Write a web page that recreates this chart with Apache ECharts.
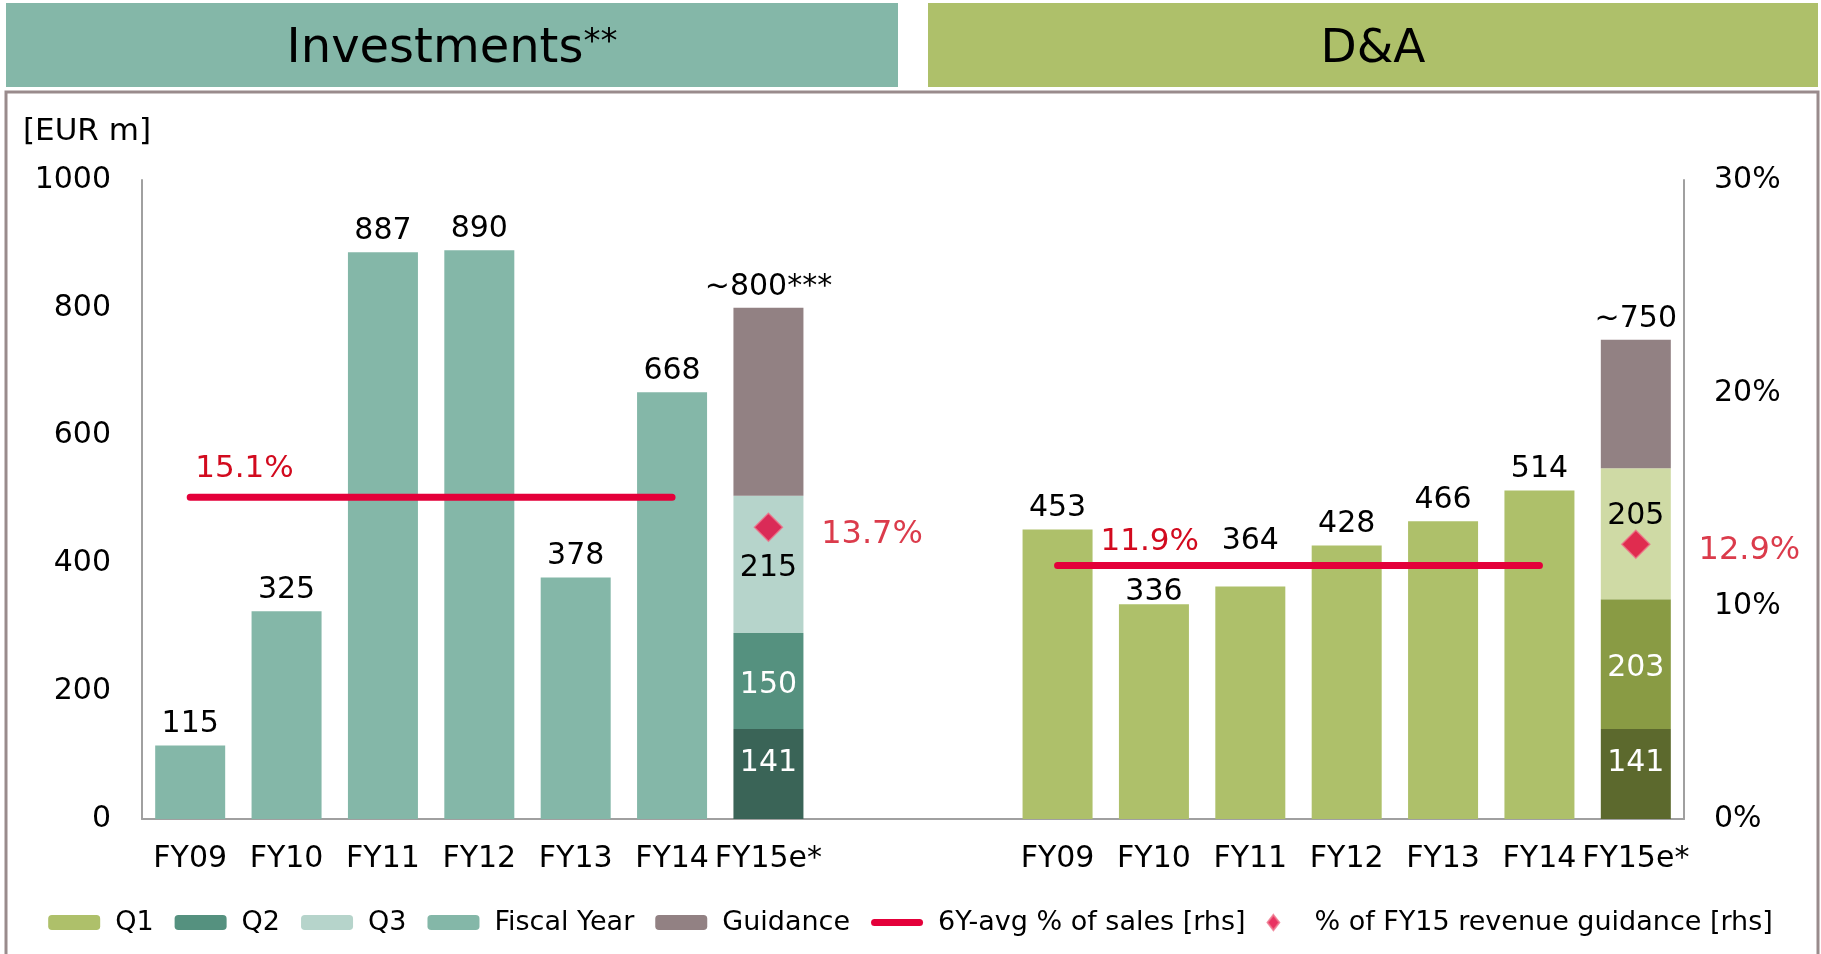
<!DOCTYPE html>
<html>
<head>
<meta charset="utf-8">
<script src="https://cdn.jsdelivr.net/npm/echarts@6/dist/echarts.min.js"></script>
<style>
  html, body { margin: 0; padding: 0; background: #fff; }
  #main { width: 1821px; height: 954px; }
</style>
</head>
<body>
<div id="main"></div>
<script>
// categories: 7 investment years, 2 empty gap slots, 7 D&A years
var categories = ['FY09', 'FY10', 'FY11', 'FY12', 'FY13', 'FY14', 'FY15e*', '', '',
  'FY09', 'FY10', 'FY11', 'FY12', 'FY13', 'FY14', 'FY15e*'];
var invYears = [115, 325, 887, 890, 378, 668];
var daYears = [453, 336, 364, 428, 466, 514];
// FY15e* quarters: [investments, D&A]
var fy15Q1 = [141, 141];
var fy15Q2 = [150, 203];
var fy15Q3 = [215, 205];
var guidanceTotal = [800, 750];
var guidanceLabels = ['~800***', '~750'];
var avgPct = [15.1, 11.9];
var guidancePct = [13.7, 12.9];

var INV = 6, DA = 15;
var font = 'DejaVu Sans';
var teal = '#84B7A8', olive = '#AEC06A', red = '#E4003A', redText = '#D20A1E';

function emptyRow() {
  var a = [];
  for (var i = 0; i < categories.length; i++) a.push('-');
  return a;
}

var fyData = emptyRow();
invYears.forEach(function (v, i) { fyData[i] = v; });
daYears.forEach(function (v, i) { fyData[9 + i] = { value: v, itemStyle: { color: olive } }; });
// nudge labels that sit near the red average line
fyData[10].label = { offset: [0, 9] };
fyData[11].label = { offset: [0, -24] };

var q1Data = emptyRow(), q2Data = emptyRow(), q3Data = emptyRow(), guideData = emptyRow();
q1Data[INV] = { value: fy15Q1[0], itemStyle: { color: '#3A6457' }, label: { offset: [0, -11] } };
q1Data[DA] = { value: fy15Q1[1], itemStyle: { color: '#5C692D' }, label: { offset: [0, -11] } };
q2Data[INV] = { value: fy15Q2[0], itemStyle: { color: '#55917F' }, label: { offset: [0, 4] } };
q2Data[DA] = { value: fy15Q2[1], itemStyle: { color: '#899B44' }, label: { offset: [0, 4] } };
q3Data[INV] = { value: fy15Q3[0], itemStyle: { color: '#B6D4CB' }, label: { offset: [0, 4] } };
q3Data[DA] = { value: fy15Q3[1], itemStyle: { color: '#CFDAA5' }, label: { offset: [0, -17] } };
[INV, DA].forEach(function (idx, k) {
  guideData[idx] = {
    value: guidanceTotal[k] - fy15Q1[k] - fy15Q2[k] - fy15Q3[k],
    label: { formatter: guidanceLabels[k] }
  };
});

var avgData = emptyRow();
for (var i = 0; i < 6; i++) {
  avgData[i] = avgPct[0];
  avgData[9 + i] = avgPct[1];
}
avgData[0] = { value: avgPct[0], label: { show: true, offset: [5, -7] } };
avgData[9] = { value: avgPct[1], label: { show: true, offset: [43, -3] } };

var pctData = emptyRow();
pctData[INV] = { value: guidancePct[0], label: { distance: 38, offset: [0, 7] } };
pctData[DA] = { value: guidancePct[1], label: { distance: 48, offset: [0, 6] } };

var chart = echarts.init(document.getElementById('main'));

var valueLabel = { show: true, position: 'top', distance: 6, color: '#000', fontSize: 30, fontFamily: font };
var insideLabel = { show: true, position: 'inside', color: '#fff', fontSize: 30, fontFamily: font };
var lineIcon = 'path://M3.5,0 H48.5 A3.5,3.5 0 0 1 48.5,7 H3.5 A3.5,3.5 0 0 1 3.5,0 Z';
var diamondIcon = 'path://M7,0 L14,9 L7,18 L0,9 Z';

var option = {
  animation: false,
  textStyle: { fontFamily: font },
  graphic: [
    { type: 'rect', shape: { x: 6, y: 92, width: 1812, height: 880 }, style: { fill: 'none', stroke: '#998B8C', lineWidth: 3 }, z: -10 },
    { type: 'rect', shape: { x: 6, y: 3, width: 892, height: 84 }, style: { fill: teal } },
    { type: 'rect', shape: { x: 928, y: 3, width: 890, height: 84 }, style: { fill: olive } },
    {
      type: 'text', x: 452, y: 50,
      style: {
        text: '{a|Investments}{b|**}', align: 'center', verticalAlign: 'middle',
        rich: {
          a: { fontSize: 48, fontFamily: font, fill: '#000' },
          b: { fontSize: 34, fontFamily: font, fill: '#000', verticalAlign: 'top', padding: [0, 0, 14, 0] }
        }
      }
    },
    { type: 'text', x: 1373, y: 50, style: { text: 'D&A', fontSize: 47, fontFamily: font, fill: '#000', align: 'center', verticalAlign: 'middle' } },
    { type: 'text', x: 23, y: 132, style: { text: '[EUR m]', fontSize: 31, fontFamily: font, fill: '#000', verticalAlign: 'middle' } }
  ],
  legend: {
    left: 'center',
    top: 904,
    itemWidth: 52,
    itemHeight: 15,
    itemGap: 21,
    symbolKeepAspect: true,
    textStyle: { fontSize: 27, fontFamily: font, color: '#000', padding: [0, 0, 0, 10] },
    data: ['Q1', 'Q2', 'Q3', 'Fiscal Year', 'Guidance',
      { name: '6Y-avg % of sales [rhs]', icon: lineIcon },
      { name: '% of FY15 revenue guidance [rhs]', icon: diamondIcon }]
  },
  grid: { left: 142, right: 137, top: 180, bottom: 135 },
  xAxis: {
    type: 'category',
    data: categories,
    axisTick: { show: false },
    axisLine: { lineStyle: { color: '#A0A0A0', width: 2 } },
    axisLabel: { interval: 0, color: '#000', fontSize: 30, fontFamily: font, margin: 25 }
  },
  yAxis: [{
    type: 'value', min: 0, max: 1000, interval: 200,
    axisLine: { show: true, lineStyle: { color: '#A0A0A0', width: 2 } },
    axisTick: { show: false },
    splitLine: { show: false },
    axisLabel: { color: '#000', fontSize: 30, fontFamily: font, margin: 31, formatter: function (v) { return String(v); } }
  }, {
    type: 'value', min: 0, max: 30, interval: 10,
    axisLine: { show: true, lineStyle: { color: '#A0A0A0', width: 2 } },
    axisTick: { show: false },
    splitLine: { show: false },
    axisLabel: { color: '#000', fontSize: 30, fontFamily: font, margin: 30, formatter: '{value}%' }
  }],
  series: [{
    name: 'Fiscal Year', type: 'bar', stack: 'a', barWidth: 70,
    itemStyle: { color: teal },
    label: valueLabel,
    data: fyData
  }, {
    name: 'Q1', type: 'bar', stack: 'a',
    itemStyle: { color: olive },
    label: insideLabel,
    data: q1Data
  }, {
    name: 'Q2', type: 'bar', stack: 'a',
    itemStyle: { color: '#55917F' },
    label: insideLabel,
    data: q2Data
  }, {
    name: 'Q3', type: 'bar', stack: 'a',
    itemStyle: { color: '#B6D4CB' },
    label: { show: true, position: 'inside', color: '#000', fontSize: 30, fontFamily: font },
    data: q3Data
  }, {
    name: 'Guidance', type: 'bar', stack: 'a',
    itemStyle: { color: '#928183' },
    label: valueLabel,
    data: guideData
  }, {
    name: '6Y-avg % of sales [rhs]', type: 'line', yAxisIndex: 1,
    symbol: 'circle', symbolSize: 1, showSymbol: true, connectNulls: false,
    itemStyle: { color: red },
    lineStyle: { color: red, width: 7, cap: 'round' },
    label: { show: false, position: 'top', align: 'left', color: redText, fontSize: 31, fontFamily: font, formatter: '{c}%' },
    data: avgData, z: 5
  }, {
    name: '% of FY15 revenue guidance [rhs]', type: 'scatter', yAxisIndex: 1,
    symbol: 'diamond', symbolSize: 28,
    itemStyle: { color: red, borderColor: '#EE7088', borderWidth: 1.5 },
    label: { show: true, position: 'right', color: redText, fontSize: 32, fontFamily: font, formatter: '{c}%' },
    data: pctData, z: 6
  }]
};

chart.setOption(option);
</script>
</body>
</html>
